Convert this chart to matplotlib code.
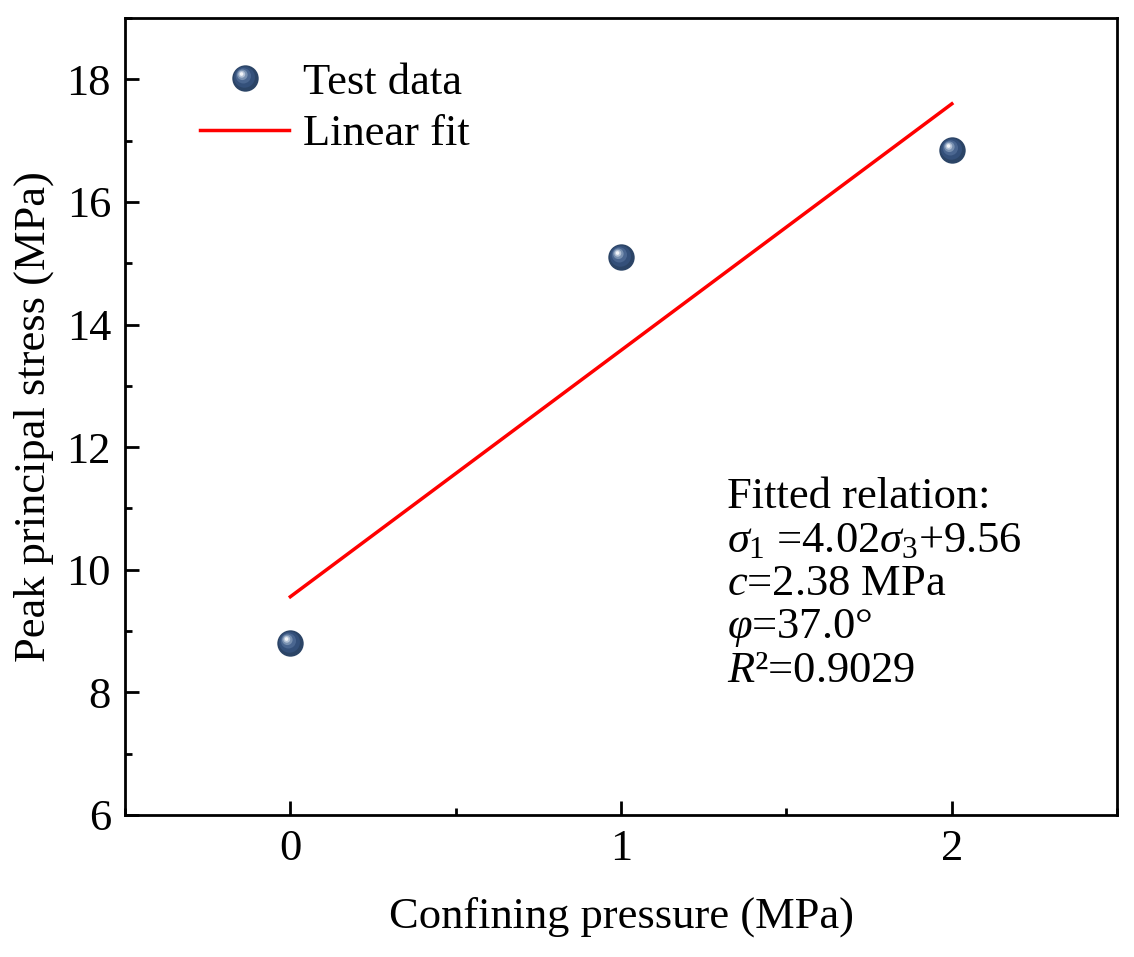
import numpy as np
import matplotlib
matplotlib.use("Agg")
import matplotlib.pyplot as plt
from matplotlib.path import Path
from matplotlib.ticker import MultipleLocator
from matplotlib.legend_handler import HandlerTuple

# ---- data ----
confining = [0, 1, 2]
peak_stress = [8.8, 15.1, 16.85]
fit_slope = 4.02
fit_intercept = 9.56
fit_x = [0, 2]
annot_lines = ["Fitted relation:",
               r"$\sigma_1$ =4.02$\sigma_3$+9.56",
               r"$c$=2.38 MPa",
               r"$\varphi$=37.0°",
               r"$R$²=0.9029"]

plt.rcParams['font.family'] = ['Liberation Serif', 'DejaVu Serif']
plt.rcParams['mathtext.fontset'] = 'custom'
plt.rcParams['mathtext.rm'] = 'Liberation Serif'
plt.rcParams['mathtext.it'] = 'Liberation Serif:italic'

fig = plt.figure(figsize=(11.34, 9.57), dpi=100)
ax = fig.add_axes([0.1102, 0.1484, 0.875, 0.8328])

fs = 32

# fit line
fy = [fit_slope * x + fit_intercept for x in fit_x]
line, = ax.plot(fit_x, fy, color='#ff0000', lw=2.5, zorder=2)

# shaded sphere markers: layered offset circles
def circ_marker(cx, cy, r):
    c = Path.circle((cx, cy), r)
    verts = np.vstack([[[1.0, 0.0]], c.vertices])
    codes = np.concatenate([[Path.MOVETO], c.codes])
    return Path(verts, codes)

layers = [
    (0.0, 0.0, 1.0, '#2b4466'),
    (-0.08, 0.10, 0.80, '#34507a'),
    (-0.16, 0.20, 0.58, '#4a6690'),
    (-0.24, 0.28, 0.40, '#7890b0'),
    (-0.28, 0.32, 0.26, '#b4c2d6'),
    (-0.30, 0.34, 0.14, '#f2f5f9'),
]
ms = 19
handles = []
for i, (cx, cy, r, col) in enumerate(layers):
    h, = ax.plot(confining, peak_stress, ls='none',
                 marker=circ_marker(cx, cy, r), ms=ms,
                 mfc=col, mec='none', mew=0, zorder=3 + i)
    handles.append(h)

leg = ax.legend([tuple(handles), line], ['Test data', 'Linear fit'],
                handler_map={tuple: HandlerTuple(ndivide=1, pad=0)},
                loc='upper left', bbox_to_anchor=(0.058, 0.966),
                frameon=False, fontsize=fs, handlelength=2.0,
                handletextpad=0.3, labelspacing=0.25, borderaxespad=0)

ax.set_xlim(-0.5, 2.5)
ax.set_ylim(6, 19)
ax.set_xticks([0, 1, 2])
ax.set_yticks([6, 8, 10, 12, 14, 16, 18])
ax.xaxis.set_minor_locator(MultipleLocator(0.5))
ax.yaxis.set_minor_locator(MultipleLocator(1))
ax.tick_params(which='major', direction='in', length=10, width=2,
               labelsize=fs, pad=10)
ax.tick_params(which='minor', direction='in', length=5, width=2)
for s in ax.spines.values():
    s.set_linewidth(2)

ax.set_xlabel('Confining pressure (MPa)', fontsize=fs, labelpad=20)
ax.set_ylabel('Peak principal stress (MPa)', fontsize=fs, labelpad=9)

y0 = 0.385
for i, t in enumerate(annot_lines):
    ax.text(0.607, y0 - i * 0.0545, t, transform=ax.transAxes,
            fontsize=fs, va='baseline', ha='left')

fig.savefig('out.png', dpi=100)
